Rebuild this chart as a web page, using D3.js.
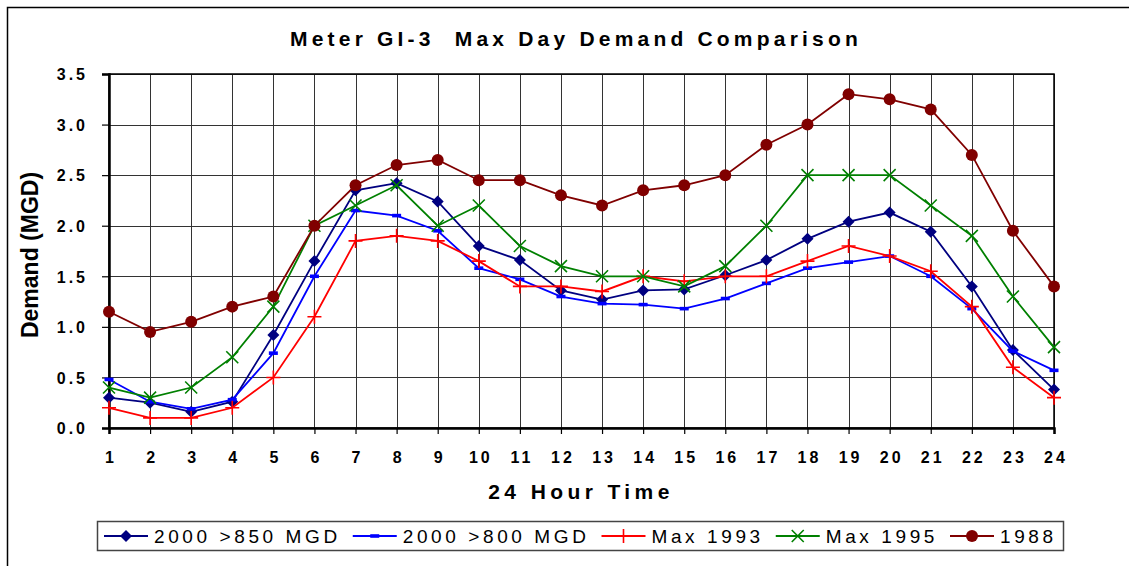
<!DOCTYPE html>
<html>
<head>
<meta charset="utf-8">
<script src="https://cdn.jsdelivr.net/npm/d3@7"></script>
<style>
    body { margin: 0; background: #fff; }
    svg { display: block; font-family: "Liberation Sans", Arial, sans-serif; }
</style>
</head>
<body>
<svg id="chart"></svg>
<script>
// hours along the bottom
const HOURS = [1, 2, 3, 4, 5, 6, 7, 8, 9, 10, 11, 12, 13, 14, 15, 16, 17, 18, 19, 20, 21, 22, 23, 24];
const Y_TICKS = [0.0, 0.5, 1.0, 1.5, 2.0, 2.5, 3.0, 3.5];

const S850 = [0.30, 0.25, 0.16, 0.26, 0.92, 1.65, 2.35, 2.42, 2.24, 1.80, 1.66, 1.36,
    1.27, 1.36, 1.37, 1.51, 1.66, 1.87, 2.04, 2.13, 1.94, 1.40, 0.77, 0.38];
const S800 = [0.48, 0.26, 0.19, 0.28, 0.74, 1.50, 2.15, 2.10, 1.95, 1.58, 1.47, 1.30,
    1.23, 1.22, 1.18, 1.28, 1.43, 1.58, 1.64, 1.70, 1.50, 1.18, 0.76, 0.57];
const MAX1993 = [0.20, 0.10, 0.10, 0.20, 0.50, 1.10, 1.85, 1.90, 1.85, 1.65, 1.40, 1.40,
    1.35, 1.50, 1.45, 1.50, 1.50, 1.65, 1.80, 1.70, 1.55, 1.20, 0.60, 0.30];
const MAX1995 = [0.40, 0.30, 0.40, 0.70, 1.20, 2.00, 2.20, 2.40, 2.00, 2.20, 1.80, 1.60,
    1.50, 1.50, 1.40, 1.60, 2.00, 2.50, 2.50, 2.50, 2.20, 1.90, 1.30, 0.80];
const Y1988 = [1.15, 0.95, 1.05, 1.20, 1.30, 2.00, 2.40, 2.60, 2.65, 2.45, 2.45, 2.30,
    2.20, 2.35, 2.40, 2.50, 2.80, 3.00, 3.30, 3.25, 3.15, 2.70, 1.95, 1.40];

const SERIES_NAMES = ["2000 >850 MGD", "2000 >800 MGD", "Max 1993", "Max 1995", "1988"];

const WIDTH = 1129;
const HEIGHT = 566;
const PLOT = { left: 109, right: 1054, top: 74, bottom: 428 };

const series = [
    { name: SERIES_NAMES[0], values: S850, color: "#000080", marker: "diamond" },
    { name: SERIES_NAMES[1], values: S800, color: "#0000ff", marker: "dash" },
    { name: SERIES_NAMES[2], values: MAX1993, color: "#ff0000", marker: "plus" },
    { name: SERIES_NAMES[3], values: MAX1995, color: "#008000", marker: "cross" },
    { name: SERIES_NAMES[4], values: Y1988, color: "#800000", marker: "circle" }
];

const svg = d3.select("#chart").attr("width", WIDTH).attr("height", HEIGHT);

const x = d3.scalePoint().domain(HOURS).range([PLOT.left, PLOT.right]);
const y = d3.scaleLinear().domain([0, 3.5]).range([PLOT.bottom, PLOT.top]);

// outer frame (only top and left edges show in the window)
svg.append("path")
    .attr("d", "M7.5," + HEIGHT + "V7.5H" + WIDTH)
    .attr("fill", "none")
    .attr("stroke", "#000")
    .attr("stroke-width", 1.5);

// title
svg.append("text")
    .attr("x", 576)
    .attr("y", 46)
    .attr("text-anchor", "middle")
    .style("font-size", "21px")
    .style("font-weight", "bold")
    .style("letter-spacing", "4.2px")
    .style("white-space", "pre")
    .text("Meter GI-3  Max Day Demand Comparison");

// grid
svg.append("g")
    .selectAll("line")
    .data(Y_TICKS)
    .enter().append("line")
    .attr("x1", PLOT.left).attr("x2", PLOT.right)
    .attr("y1", d => Math.round(y(d)) + 0.5).attr("y2", d => Math.round(y(d)) + 0.5)
    .attr("stroke", "#333")
    .attr("stroke-width", 1.2);

svg.append("g")
    .selectAll("line")
    .data(HOURS)
    .enter().append("line")
    .attr("x1", d => Math.round(x(d)) + 0.5).attr("x2", d => Math.round(x(d)) + 0.5)
    .attr("y1", PLOT.top).attr("y2", PLOT.bottom)
    .attr("stroke", "#333")
    .attr("stroke-width", 1);

// plot frame
svg.append("rect")
    .attr("x", PLOT.left).attr("y", PLOT.top)
    .attr("width", PLOT.right - PLOT.left).attr("height", PLOT.bottom - PLOT.top)
    .attr("fill", "none")
    .attr("stroke", "#000")
    .attr("stroke-width", 1.5);

// axes
const xAxis = svg.append("g")
    .attr("transform", "translate(0," + PLOT.bottom + ")")
    .call(d3.axisBottom(x).tickSize(6).tickPadding(18));
const yAxis = svg.append("g")
    .attr("transform", "translate(" + PLOT.left + ",0)")
    .call(d3.axisLeft(y).tickValues(Y_TICKS).tickFormat(d3.format(".1f")).tickSize(7).tickPadding(14));

[xAxis, yAxis].forEach(function(ax) {
    ax.select(".domain").attr("stroke", "#000").attr("stroke-width", 2.5);
    ax.selectAll(".tick line").attr("stroke", "#000").attr("stroke-width", 1.2);
    ax.selectAll(".tick text")
        .attr("fill", "#000")
        .style("font-family", "'Liberation Sans', Arial, sans-serif")
        .style("font-size", "16px")
        .style("font-weight", "bold")
        .style("letter-spacing", "3px");
});
xAxis.selectAll(".tick text").attr("dx", "1.5px");
yAxis.selectAll(".tick text").attr("dy", "0.36em");

// axis titles
svg.append("text")
    .attr("x", 581)
    .attr("y", 499)
    .attr("text-anchor", "middle")
    .style("font-size", "21px")
    .style("font-weight", "bold")
    .style("letter-spacing", "4.4px")
    .text("24 Hour Time");

svg.append("text")
    .attr("transform", "translate(38,255) rotate(-90)")
    .attr("text-anchor", "middle")
    .style("font-size", "23px")
    .style("font-weight", "bold")
    .text("Demand (MGD)");

function drawMarker(g, type, color) {
    if (type === "diamond") {
        g.append("path").attr("d", "M0,-6L6,0L0,6L-6,0Z").attr("fill", color);
    } else if (type === "dash") {
        g.append("rect").attr("x", -4.5).attr("y", -1.8).attr("width", 9).attr("height", 3.6).attr("fill", color);
    } else if (type === "plus") {
        g.append("path").attr("d", "M-7,0H7M0,-7V7").attr("stroke", color).attr("stroke-width", 1.6);
    } else if (type === "cross") {
        g.append("path").attr("d", "M-6,-6L6,6M-6,6L6,-6").attr("stroke", color).attr("stroke-width", 1.6);
    } else if (type === "circle") {
        g.append("circle").attr("r", 6).attr("fill", color);
    }
}

const line = d3.line()
    .x((d, i) => x(HOURS[i]))
    .y(d => y(d));

series.forEach(function(s) {
    const g = svg.append("g");
    g.append("path")
        .attr("d", line(s.values))
        .attr("fill", "none")
        .attr("stroke", s.color)
        .attr("stroke-width", 1.8);
    s.values.forEach(function(v, i) {
        const m = g.append("g").attr("transform", "translate(" + x(HOURS[i]) + "," + y(v) + ")");
        drawMarker(m, s.marker, s.color);
    });
});

// legend
const legend = svg.append("g");
legend.append("rect")
    .attr("x", 97.5).attr("y", 521.5)
    .attr("width", 966).attr("height", 29)
    .attr("fill", "#fff")
    .attr("stroke", "#444")
    .attr("stroke-width", 1.5);

let lx = 104;
series.forEach(function(s) {
    const item = legend.append("g");
    item.append("line")
        .attr("x1", lx).attr("x2", lx + 44)
        .attr("y1", 536).attr("y2", 536)
        .attr("stroke", s.color)
        .attr("stroke-width", 1.8);
    drawMarker(item.append("g").attr("transform", "translate(" + (lx + 22) + ",536)"), s.marker, s.color);
    const t = item.append("text")
        .attr("x", lx + 50)
        .attr("y", 543)
        .style("font-size", "19px")
        .style("letter-spacing", "3.6px")
        .text(s.name);
    lx += 50 + t.node().getComputedTextLength() + 12;
});
</script>
</body>
</html>
